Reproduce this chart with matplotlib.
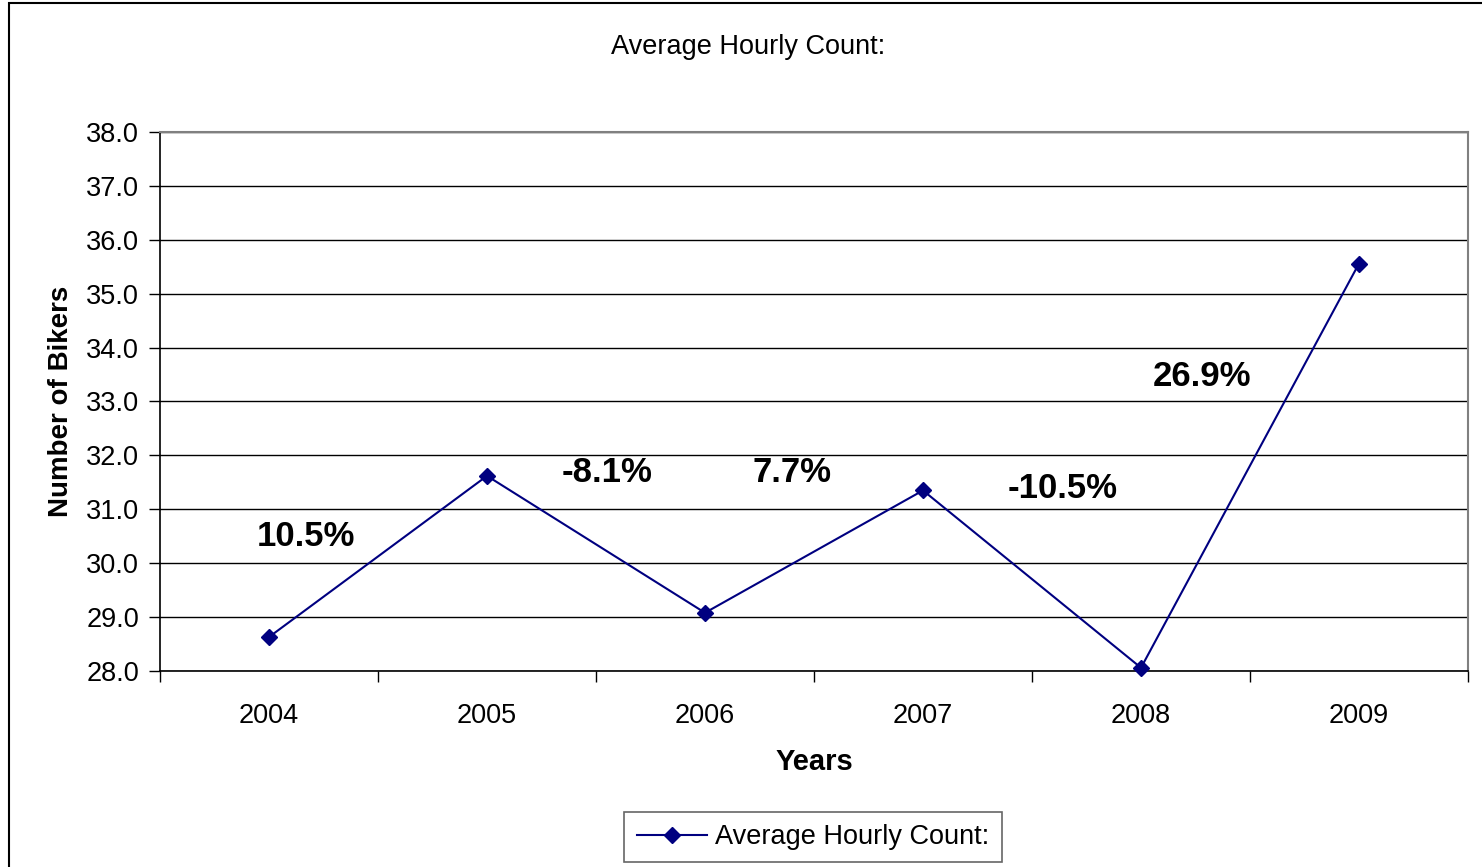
import matplotlib
matplotlib.use("Agg")
import matplotlib.pyplot as plt
from matplotlib.patches import Rectangle

years = ["2004", "2005", "2006", "2007", "2008", "2009"]
counts = [28.63, 31.62, 29.08, 31.35, 28.06, 35.56]
pct_labels = ["10.5%", "-8.1%", "7.7%", "-10.5%", "26.9%"]
pct_x = [0.17, 1.55, 2.40, 3.64, 4.28]
pct_y = [30.49, 31.69, 31.69, 31.38, 33.47]
yticks = [28.0, 29.0, 30.0, 31.0, 32.0, 33.0, 34.0, 35.0, 36.0, 37.0, 38.0]

plt.rcParams['font.family'] = ['Liberation Sans', 'DejaVu Sans']

W, H = 1482, 867
fig = plt.figure(figsize=(W / 100, H / 100), dpi=100)
fig.patch.set_facecolor('white')

# outer chart border
fig.patches.append(Rectangle((9 / W, -0.01), 1.2, (H - 3) / H + 0.01, transform=fig.transFigure,
                             fill=False, edgecolor='black', linewidth=1.5))

left, right, top, bottom = 160, 1468, 132, 671
ax = fig.add_axes([left / W, 1 - bottom / H, (right - left) / W, (bottom - top) / H])

x = list(range(len(years)))
ax.plot(x, counts, color='#000080', linewidth=1.5, marker='D', markersize=8.5,
        label='Average Hourly Count:', zorder=3, clip_on=False)

ax.set_xlim(-0.5, len(years) - 0.5)
ax.set_ylim(28, 38)
ax.set_yticks(yticks)
ax.set_yticklabels([f"{v:.1f}" for v in yticks], fontsize=19.5)
ax.set_xticks([i - 0.5 for i in range(len(years) + 1)])
ax.set_xticklabels([])
ax.set_xticks(x, minor=True)
ax.set_xticklabels(years, minor=True, fontsize=19.5)
ax.tick_params(axis='x', which='minor', length=0, pad=23)
ax.tick_params(axis='x', which='major', length=8, width=1, direction='out', color='black')
ax.tick_params(axis='y', length=8, width=1, direction='out', pad=7)

ax.grid(axis='y', color='black', linewidth=1)
ax.set_axisbelow(True)
for s in ['top', 'right']:
    ax.spines[s].set_color('#808080')
    ax.spines[s].set_linewidth(1.5)
for s in ['left', 'bottom']:
    ax.spines[s].set_color('black')
    ax.spines[s].set_linewidth(1.2)

for t, px, py in zip(pct_labels, pct_x, pct_y):
    ax.text(px, py, t, fontsize=25, fontweight='bold', ha='center', va='center')

ax.set_xlabel('Years', fontsize=21, fontweight='bold', labelpad=14)
ax.set_ylabel('Number of Bikers', fontsize=20, fontweight='bold', labelpad=9)

fig.text(748 / W, 1 - 47 / H, 'Average Hourly Count:', fontsize=19.5, ha='center', va='center')

leg = ax.legend(loc='center', bbox_to_anchor=(813 / W, 1 - 837 / H), bbox_transform=fig.transFigure,
                fontsize=19.5, frameon=True, fancybox=False, edgecolor='#404040',
                handlelength=2.6, borderpad=0.45, handletextpad=0.3)
leg.get_frame().set_linewidth(1.2)

fig.savefig('out.png', dpi=100, facecolor='white')
